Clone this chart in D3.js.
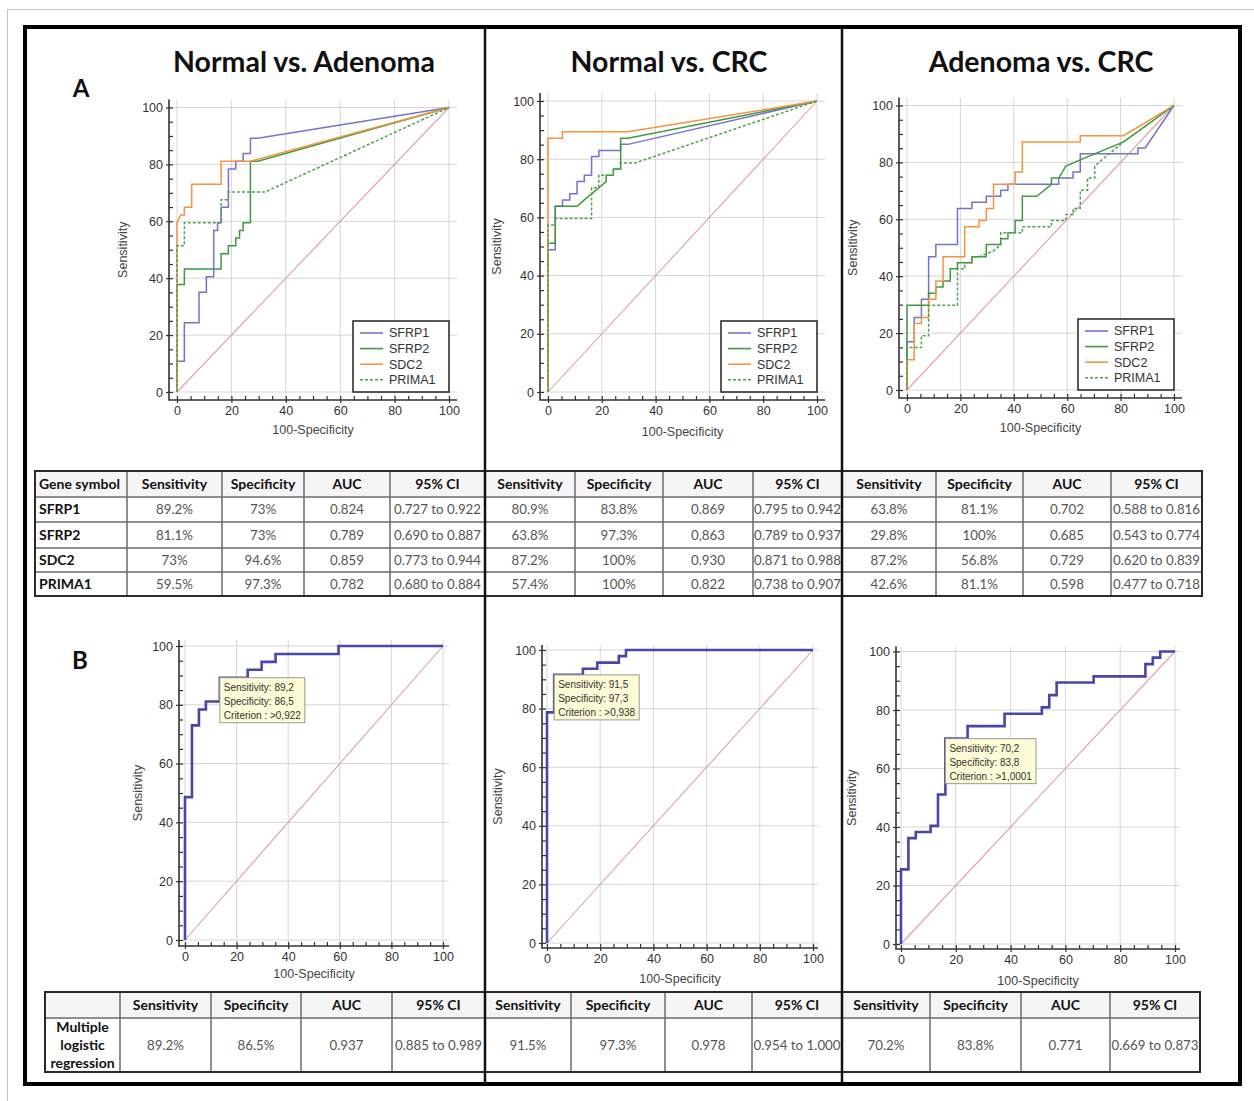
<!DOCTYPE html>
<html><head><meta charset="utf-8">
<script src="https://cdn.jsdelivr.net/npm/d3@7"></script>
<style>body{margin:0;background:#fff}</style>
</head><body>
<svg id="c" width="1254" height="1101"></svg>
<script>
// ---------------- DATA ----------------
const panelTitles = ["Normal vs. Adenoma", "Normal vs. CRC", "Adenoma vs. CRC"];
const panelLetters = ["A", "B"];
const geneSymbols = ["SFRP1", "SFRP2", "SDC2", "PRIMA1"];
const axisTicks = [0, 20, 40, 60, 80, 100];
const minorTicks = d3.range(0, 101, 5);
const xAxisLabel = "100-Specificity";
const yAxisLabel = "Sensitivity";

// ROC curves, points [100-Specificity, Sensitivity]
const nvaSFRP1 = [[0,0],[0,10.8],[2.7,10.8],[2.7,24.3],[8.1,24.3],[8.1,35.1],[10.8,35.1],[10.8,40.5],[13.5,40.5],[13.5,56.8],[14.9,56.8],[14.9,59.5],[16.2,59.5],[16.2,64.9],[18.9,64.9],[18.9,78.4],[21.6,78.4],[21.6,81.1],[24.3,81.1],[24.3,83.8],[27,83.8],[27,89.2],[29.7,89.2],[100,100]];
const nvaSFRP2 = [[0,0],[0,37.8],[2.7,37.8],[2.7,43.2],[16.2,43.2],[16.2,48.6],[18.9,48.6],[18.9,51.4],[21.6,51.4],[21.6,54.1],[23,54.1],[23,56.8],[24.3,56.8],[24.3,59.5],[27,59.5],[27,81.1],[29.7,81.1],[100,100]];
const nvaSDC2 = [[0,0],[0,59.5],[1.35,62.2],[2.7,62.2],[2.7,64.9],[5.4,64.9],[5.4,73],[16.2,73],[16.2,81.1],[27,81.1],[100,100]];
const nvaPRIMA1 = [[0,0],[0,51.4],[2.7,51.4],[2.7,59.5],[16.2,59.5],[16.2,67.6],[18.9,67.6],[18.9,70.3],[32.4,70.3],[100,100]];

const nvcSFRP1 = [[0,0],[0,48.9],[2.7,48.9],[2.7,63.8],[5.4,63.8],[5.4,66],[8.1,66],[8.1,68.1],[10.8,68.1],[10.8,72.3],[13.5,72.3],[13.5,74.5],[16.2,74.5],[16.2,80.9],[18.9,80.9],[18.9,83],[27,83],[27,85.1],[29.7,85.1],[100,100]];
const nvcSFRP2 = [[0,0],[0,51.1],[2.7,51.1],[2.7,63.8],[10.8,63.8],[13.5,66],[16.2,68.1],[18.9,70.2],[21.6,72.3],[21.6,74.5],[24.3,74.5],[24.3,76.6],[27,76.6],[27,87.2],[29.7,87.2],[100,100]];
const nvcSDC2 = [[0,0],[0,87.2],[5.4,87.2],[5.4,89.4],[29.7,89.4],[100,100]];
const nvcPRIMA1 = [[0,0],[0,57.4],[2.7,57.4],[2.7,59.6],[16.2,59.6],[16.2,70.2],[18.9,70.2],[18.9,74.5],[24.3,74.5],[24.3,76.6],[27,76.6],[27,78.7],[32.4,78.7],[100,100]];

const avcSFRP1 = [[0,0],[0,17],[2.7,17],[2.7,25.5],[5.4,25.5],[5.4,31.9],[8.1,31.9],[8.1,46.8],[10.8,46.8],[10.8,51.1],[18.9,51.1],[18.9,63.8],[24.3,63.8],[24.3,66],[29.7,66],[29.7,68.1],[35.1,68.1],[35.1,70.2],[37.8,70.2],[37.8,72.3],[56.8,72.3],[56.8,74.5],[62.2,74.5],[62.2,76.6],[64.9,76.6],[64.9,83],[86.5,83],[86.5,85.1],[89.2,85.1],[100,100]];
const avcSFRP2 = [[0,0],[0,29.8],[8.1,29.8],[8.1,34],[10.8,34],[10.8,36.2],[13.5,36.2],[13.5,38.3],[16.2,38.3],[16.2,42.6],[18.9,42.6],[18.9,44.7],[24.3,44.7],[24.3,46.8],[29.7,46.8],[29.7,51.1],[35.1,51.1],[35.1,53.2],[37.8,53.2],[37.8,55.3],[40.5,55.3],[40.5,59.6],[43.2,59.6],[43.2,68.1],[48.6,68.1],[51.4,70.2],[54.1,72.3],[54.1,74.5],[56.8,74.5],[59.5,78.7],[64.9,80.9],[81.1,87.2],[100,100]];
const avcSDC2 = [[0,0],[0,10.6],[2.7,10.6],[2.7,23.4],[5.4,23.4],[5.4,25.5],[8.1,25.5],[8.1,31.9],[10.8,31.9],[10.8,38.3],[13.5,38.3],[13.5,46.8],[21.6,46.8],[21.6,57.4],[27,57.4],[27,59.6],[29.7,59.6],[29.7,63.8],[32.4,63.8],[32.4,72.3],[40.5,72.3],[40.5,76.6],[43.2,76.6],[43.2,87.2],[64.9,87.2],[64.9,89.4],[81.1,89.4],[100,100]];
const avcPRIMA1 = [[0,0],[0,14.9],[5.4,14.9],[5.4,19.1],[8.1,19.1],[8.1,29.8],[18.9,29.8],[18.9,42.6],[21.6,42.6],[21.6,44.7],[24.3,44.7],[24.3,46.8],[27,46.8],[32.4,48.9],[35.1,51.1],[35.1,55.3],[43.2,55.3],[43.2,57.4],[54.1,57.4],[54.1,59.6],[59.5,59.6],[59.5,61.7],[62.2,61.7],[62.2,63.8],[64.9,63.8],[64.9,70.2],[67.6,70.2],[67.6,74.5],[70.3,74.5],[70.3,78.7],[73,80.9],[81.1,87.2],[100,100]];

// Multiple logistic regression curves
const mlrNvA = [[0,0],[0,48.6],[2.7,48.6],[2.7,73],[5.4,73],[5.4,78.4],[8.1,78.4],[8.1,81.1],[13.5,81.1],[13.5,89.2],[24.3,89.2],[24.3,91.9],[29.7,91.9],[29.7,94.6],[35.1,94.6],[35.1,97.3],[59.5,97.3],[59.5,100],[100,100]];
const mlrNvC = [[0,0],[0,78.7],[2.7,78.7],[2.7,91.5],[13.5,91.5],[13.5,93.6],[18.9,93.6],[18.9,95.7],[27,95.7],[27,97.9],[29.7,97.9],[29.7,100],[100,100]];
const mlrAvC = [[0,0],[0,25.5],[2.7,25.5],[2.7,36.2],[5.4,36.2],[5.4,38.3],[10.8,38.3],[10.8,40.4],[13.5,40.4],[13.5,51.1],[16.2,51.1],[16.2,70.2],[24.3,70.2],[24.3,74.5],[37.8,74.5],[37.8,78.7],[51.4,78.7],[51.4,80.9],[54.1,80.9],[54.1,85.1],[56.8,85.1],[56.8,89.4],[70.3,89.4],[70.3,91.5],[89.2,91.5],[89.2,95.7],[91.9,95.7],[91.9,97.9],[94.6,97.9],[94.6,100],[100,100]];
const criterionPoints = [[13.5,89.2],[2.7,91.5],[16.2,70.2]];
const criterionTexts = [
  ["Sensitivity: 89,2","Specificity: 86,5","Criterion : >0,922"],
  ["Sensitivity: 91,5","Specificity: 97,3","Criterion : >0,938"],
  ["Sensitivity: 70,2","Specificity: 83,8","Criterion : >1,0001"]
];

// Tables
const tableHeaders = ["Sensitivity","Specificity","AUC","95% CI"];
const firstColHeader = "Gene symbol";
const tabNvA = [["89.2%","73%","0.824","0.727 to 0.922"],["81.1%","73%","0.789","0.690 to 0.887"],["73%","94.6%","0.859","0.773 to 0.944"],["59.5%","97.3%","0.782","0.680 to 0.884"]];
const tabNvC = [["80.9%","83.8%","0.869","0.795 to 0.942"],["63.8%","97.3%","0,863","0.789 to 0.937"],["87.2%","100%","0.930","0.871 to 0.988"],["57.4%","100%","0.822","0.738 to 0.907"]];
const tabAvC = [["63.8%","81.1%","0.702","0.588 to 0.816"],["29.8%","100%","0.685","0.543 to 0.774"],["87.2%","56.8%","0.729","0.620 to 0.839"],["42.6%","81.1%","0.598","0.477 to 0.718"]];
const mlrLabel = ["Multiple","logistic","regression"];
const tabMLR = [["89.2%","86.5%","0.937","0.885 to 0.989"],["91.5%","97.3%","0.978","0.954 to 1.000"],["70.2%","83.8%","0.771","0.669 to 0.873"]];

// ---------------- STYLE / LAYOUT ----------------
const geneColor = {SFRP1:"#7373d2", SFRP2:"#3f9a3f", SDC2:"#f59440", PRIMA1:"#4ea24e"};
const geneDash = {SFRP1:null, SFRP2:null, SDC2:null, PRIMA1:"3,2"};
const FA = "'Liberation Sans', Arial, sans-serif";
const FC = "Lato, 'Open Sans', sans-serif";

const topGeo = [
  {x0:177,x100:449,y0:392,y100:107.5,off:8,ylabX:123,xlabY:430},
  {x0:548,x100:817,y0:392,y100:101,off:8,ylabX:497,xlabY:432},
  {x0:907,x100:1174,y0:390,y100:105.5,off:8,ylabX:853,xlabY:428}
];
const botGeo = [
  {x0:185,x100:443,y0:940,y100:646,off:6,ylabX:138,xlabY:974},
  {x0:547,x100:813,y0:943,y100:650,off:5,ylabX:498,xlabY:979},
  {x0:901,x100:1175,y0:944,y100:651.5,off:5,ylabX:852,xlabY:981}
];

const svg = d3.select('#c');
svg.append('rect').attr('width',1254).attr('height',1101).attr('fill','#fff');
svg.append('path').attr('d','M7.5,1101 V9.5 H1254').attr('fill','none').attr('stroke','#c4c4c4');

function drawRoc(geo, series, legendNames, opts) {
  const g = svg.append('g');
  const x = d3.scaleLinear().domain([0,100]).range([geo.x0, geo.x100]);
  const y = d3.scaleLinear().domain([0,100]).range([geo.y0, geo.y100]);
  const ax = geo.x0 - geo.off, ay = geo.y0 + geo.off;
  const right = geo.x100 + geo.off, top = geo.y100 - geo.off;
  g.append('g').selectAll('line').data(axisTicks).join('line')
    .attr('x1', d => x(d)).attr('x2', d => x(d)).attr('y1', top).attr('y2', ay)
    .attr('stroke', '#d6d6d6').attr('stroke-width', 1);
  g.append('g').selectAll('line').data(axisTicks).join('line')
    .attr('y1', d => y(d)).attr('y2', d => y(d)).attr('x1', ax).attr('x2', right)
    .attr('stroke', '#d6d6d6').attr('stroke-width', 1);
  const line = d3.line().x(d => x(d[0])).y(d => y(d[1]));
  g.append('path').attr('d', line([[0,0],[100,100]])).attr('stroke', '#dca2a8')
    .attr('stroke-width', 1.1).attr('fill', 'none');
  const yAx = g.append('g').attr('transform', `translate(${ax},0)`)
    .call(d3.axisLeft(y).tickValues(axisTicks).tickSizeInner(3).tickSizeOuter(0).tickPadding(3));
  const yMin = g.append('g').attr('transform', `translate(${ax},0)`)
    .call(d3.axisLeft(y).tickValues(minorTicks).tickSize(-4).tickFormat(''));
  const xAx = g.append('g').attr('transform', `translate(0,${ay})`)
    .call(d3.axisBottom(x).tickValues(axisTicks).tickSizeInner(3).tickSizeOuter(0).tickPadding(3));
  const xMin = g.append('g').attr('transform', `translate(0,${ay})`)
    .call(d3.axisBottom(x).tickValues(minorTicks).tickSize(-4).tickFormat(''));
  [yAx, yMin, xAx, xMin].forEach(a => {
    a.select('.domain').remove();
    a.attr('color', '#333').attr('font-family', FA).attr('font-size', 12.5);
    a.selectAll('line').attr('stroke-width', 1.2);
  });
  yAx.selectAll('text').attr('fill', '#333');
  xAx.selectAll('text').attr('fill', '#333');
  g.append('path').attr('d', `M${ax},${top} V${ay} H${right}`).attr('fill', 'none')
    .attr('stroke', '#333').attr('stroke-width', 1.6);
  g.append('text').attr('x', (geo.x0 + geo.x100) / 2).attr('y', geo.xlabY).attr('dy', '0.35em')
    .attr('text-anchor', 'middle').attr('font-family', FA).attr('font-size', 12.5).attr('fill', '#444').text(xAxisLabel);
  g.append('text').attr('transform', `translate(${geo.ylabX},${(geo.y0 + geo.y100) / 2}) rotate(-90)`)
    .attr('dy', '0.35em').attr('text-anchor', 'middle').attr('font-family', FA).attr('font-size', 12.5)
    .attr('fill', '#444').text(yAxisLabel);
  series.forEach(s => {
    g.append('path').attr('d', line(s.pts)).attr('fill', 'none')
      .attr('stroke', s.color).attr('stroke-width', s.width)
      .attr('stroke-dasharray', s.dash).attr('stroke-linejoin', 'miter');
  });
  if (legendNames) {
    const w = 96, h = 71;
    const lx = x(100) - w, ly = y(0) - h;
    const lg = g.append('g');
    lg.append('rect').attr('x', lx).attr('y', ly).attr('width', w).attr('height', h)
      .attr('fill', '#fff').attr('stroke', '#222').attr('stroke-width', 1.5);
    legendNames.forEach((n, i) => {
      const yy = ly + 12 + i * 15.6;
      lg.append('line').attr('x1', lx + 7).attr('x2', lx + 30).attr('y1', yy).attr('y2', yy)
        .attr('stroke', geneColor[n]).attr('stroke-width', 1.6).attr('stroke-dasharray', geneDash[n]);
      lg.append('text').attr('x', lx + 36).attr('y', yy).attr('dy', '0.35em')
        .attr('font-family', FA).attr('font-size', 12.5).attr('fill', '#333').text(n);
    });
  }
  if (opts && opts.tip) {
    const [cx, cy] = opts.tip.pt;
    const bx = x(cx), by = y(cy);
    const tg = g.append('g');
    const rect = tg.append('rect').attr('x', bx).attr('y', by).attr('height', 45)
      .attr('fill', '#fdfcd6').attr('stroke', '#9a9a8a').attr('stroke-width', 1);
    let maxW = 0;
    opts.tip.lines.forEach((t, i) => {
      const tx = tg.append('text').attr('x', bx + 4).attr('y', by + 13 + i * 14)
        .attr('font-family', FA).attr('font-size', 10).attr('fill', '#333').text(t);
      maxW = Math.max(maxW, tx.node().getComputedTextLength());
    });
    rect.attr('width', maxW + 8);
  }
}

const topSeries = [
  [nvaSFRP1, nvaSFRP2, nvaSDC2, nvaPRIMA1],
  [nvcSFRP1, nvcSFRP2, nvcSDC2, nvcPRIMA1],
  [avcSFRP1, avcSFRP2, avcSDC2, avcPRIMA1]
];
topSeries.forEach((arr, p) => {
  drawRoc(topGeo[p], arr.map((pts, i) => ({
    pts, color: geneColor[geneSymbols[i]], width: 1.5, dash: geneDash[geneSymbols[i]]
  })), geneSymbols);
});
const botSeries = [mlrNvA, mlrNvC, mlrAvC];
botSeries.forEach((pts, p) => {
  drawRoc(botGeo[p], [{pts, color: '#4646ae', width: 2.6, dash: null}], null,
    {tip: {pt: criterionPoints[p], lines: criterionTexts[p]}});
});

const titleX = [304, 669, 1041];
panelTitles.forEach((t, i) => {
  svg.append('text').attr('x', titleX[i]).attr('y', 72).attr('text-anchor', 'middle')
    .attr('font-family', FC).attr('font-weight', 700).attr('font-size', 28.5).attr('fill', '#111').text(t);
});
svg.append('text').attr('x', 81).attr('y', 96.5).attr('text-anchor', 'middle').attr('font-family', FC)
  .attr('font-weight', 700).attr('font-size', 24).attr('fill', '#111').text(panelLetters[0]);
svg.append('text').attr('x', 80).attr('y', 669).attr('text-anchor', 'middle').attr('font-family', FC)
  .attr('font-weight', 700).attr('font-size', 24).attr('fill', '#111').text(panelLetters[1]);

// ---------------- TABLES ----------------
function drawTable(colXs, rowYs, rows, opts) {
  const g = svg.append('g');
  g.append('rect').attr('x', colXs[0]).attr('y', rowYs[0]).attr('width', colXs[colXs.length - 1] - colXs[0])
    .attr('height', rowYs[1] - rowYs[0]).attr('fill', '#f5f5f5');
  rows.forEach((row, r) => {
    row.forEach((cell, c) => {
      const cx0 = colXs[c], cx1 = colXs[c + 1];
      const cyMid = (rowYs[r] + rowYs[r + 1]) / 2;
      const bold = r === 0 || c === 0;
      const leftAlign = opts.leftFirst && c === 0;
      const lines = Array.isArray(cell) ? cell : [cell];
      lines.forEach((ln, k) => {
        g.append('text')
          .attr('x', leftAlign ? cx0 + 4 : (cx0 + cx1) / 2)
          .attr('y', cyMid + (k - (lines.length - 1) / 2) * 18)
          .attr('dy', '0.35em')
          .attr('text-anchor', leftAlign ? 'start' : 'middle')
          .attr('font-family', FC).attr('font-size', bold ? 14 : 13.3)
          .attr('font-weight', bold ? 700 : 400)
          .attr('fill', bold ? '#111' : '#555').text(ln);
      });
    });
  });
  rowYs.slice(1, -1).forEach(yv => g.append('line').attr('x1', colXs[0]).attr('x2', colXs[colXs.length - 1])
    .attr('y1', yv).attr('y2', yv).attr('stroke', '#6a6a6a').attr('stroke-width', 1.5));
  colXs.slice(1, -1).forEach(xv => g.append('line').attr('x1', xv).attr('x2', xv)
    .attr('y1', rowYs[0]).attr('y2', rowYs[rowYs.length - 1]).attr('stroke', '#6a6a6a').attr('stroke-width', 1.5));
  g.append('rect').attr('x', colXs[0]).attr('y', rowYs[0]).attr('width', colXs[colXs.length - 1] - colXs[0])
    .attr('height', rowYs[rowYs.length - 1] - rowYs[0]).attr('fill', 'none').attr('stroke', '#2a2a2a').attr('stroke-width', 2);
}

const headerA = [firstColHeader, ...tableHeaders, ...tableHeaders, ...tableHeaders];
const rowsA = [headerA, ...geneSymbols.map((gname, i) => [gname, ...tabNvA[i], ...tabNvC[i], ...tabAvC[i]])];
drawTable([35,127,222,304,390,485,575,663,753,842,936,1023,1111,1202], [471,497,522,548,572,596], rowsA, {leftFirst: true});

const headerB = ["", ...tableHeaders, ...tableHeaders, ...tableHeaders];
const rowsB = [headerB, [mlrLabel, ...tabMLR[0], ...tabMLR[1], ...tabMLR[2]]];
drawTable([45,120,211,301,392,485,571,665,752,842,930,1021,1110,1200], [992,1018,1072], rowsB, {leftFirst: false});

// ---------------- FRAME ----------------
[485, 842].forEach(xv => svg.append('line').attr('x1', xv).attr('x2', xv).attr('y1', 27).attr('y2', 1084)
  .attr('stroke', '#111').attr('stroke-width', 2.5));
svg.append('rect').attr('x', 25).attr('y', 27).attr('width', 1215).attr('height', 1057)
  .attr('fill', 'none').attr('stroke', '#000').attr('stroke-width', 4);
</script></body></html>
